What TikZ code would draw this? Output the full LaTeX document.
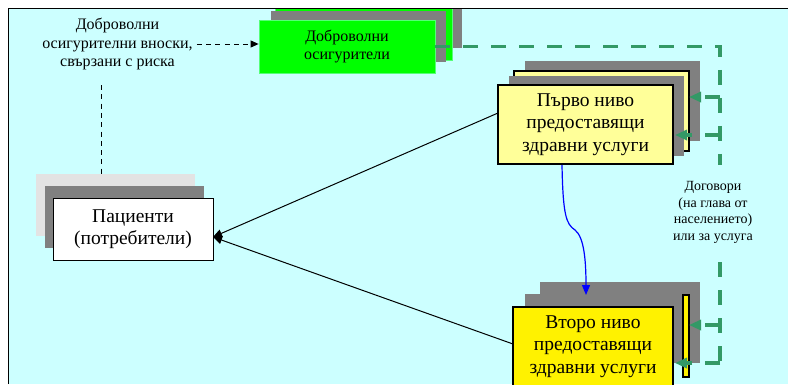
\documentclass[tikz,border=0pt]{standalone}
\usepackage{fontspec}
\setmainfont{Liberation Serif}
\usetikzlibrary{arrows.meta}
\definecolor{bgcyan}{HTML}{CCFFFF}
\definecolor{shadowgrey}{HTML}{808080}
\definecolor{lightgrey}{HTML}{E3E3E3}
\definecolor{boxgreen}{HTML}{00FF00}
\definecolor{rimgreen}{HTML}{55FF77}
\definecolor{paleyellow}{HTML}{FFFF99}
\definecolor{dashgreen}{HTML}{339966}
\tikzset{
  bigtext/.style={font=\fontsize{19.5}{22.4}\selectfont, align=center, inner sep=0pt},
  midtext/.style={font=\fontsize{16}{18.5}\selectfont, align=center, inner sep=0pt},
  smalltext/.style={font=\fontsize{14}{16.4}\selectfont, align=center, inner sep=0pt},
  greenbox/.style={midtext, fill=boxgreen, draw=rimgreen, line width=0.8pt},
  lonebox/.style={bigtext, fill=paleyellow, draw=black, line width=1.1pt},
  ltwobox/.style={bigtext, fill=yellow, draw=black, line width=1.1pt},
  patbox/.style={bigtext, fill=white, draw=black, line width=1pt},
  shadowfill/.style={fill=shadowgrey},
  gdash/.style={draw=dashgreen, line width=3.4pt, dash pattern=on 15pt off 13pt},
  gtip/.style={-{Triangle[length=12pt,width=10pt]}},
  blackdash/.style={draw=black, line width=0.9pt, dash pattern=on 5pt off 4.3pt},
  linkline/.style={draw=black, line width=1pt, -{Triangle[length=9pt,width=8pt]}},
  bluelink/.style={draw=blue, line width=1.2pt, -{Triangle[length=10pt,width=8pt]}}
}
\begin{document}
\begin{tikzpicture}[x=1pt,y=-1pt]
\useasboundingbox (0,0) rectangle (788,384);
\fill[white] (0,0) rectangle (788,384);
\fill[bgcyan] (8,8) rectangle (788,384);
\begin{scope}
\clip (8,8) rectangle (788,384);
% green stack
\fill[shadowfill] (286,-4) rectangle (462,48);
\node[greenbox, minimum width=177pt, minimum height=53pt] (gback) at (363.5,33.5) {};
\fill[shadowfill] (271,11) rectangle (446,62);
\node[greenbox, minimum width=176pt, minimum height=53pt] (gfront) at (347,46.5) {Доброволни\\осигурители};
% level 1 stack
\fill[shadowfill] (525,61) rectangle (700,141);
\node[lonebox, minimum width=175pt, minimum height=80pt] (l1back) at (601.5,111) {};
\fill[shadowfill] (509,76) rectangle (684,156);
\node[lonebox, minimum width=175pt, minimum height=79pt] (l1) at (585.5,124.5) {Първо ниво\\предоставящи\\здравни услуги};
% level 2 stack
\fill[shadowfill] (540,282) rectangle (700,363);
\fill[shadowfill] (525,294) rectangle (683,363);
\node[ltwobox, minimum width=6pt, minimum height=82pt] (l2back) at (686,336) {};
\node[ltwobox, minimum width=160pt, minimum height=79pt] (l2) at (593,346.5) {Второ ниво\\предоставящи\\здравни услуги};
% patients stack
\fill[lightgrey] (36,174) rectangle (195,236);
\fill[shadowfill] (45,186) rectangle (204,248);
\node[patbox, minimum width=160pt, minimum height=62pt] (pat) at (133,229) {Пациенти\\(потребители)};
% texts
\node[midtext] (vol) at (117.5,44) {Доброволни\\осигурителни вноски,\\свързани с риска};
\node[smalltext] (contr) at (713,212.5) {Договори\\(на глава от\\населението)\\или за услуга};
% coordinates
\coordinate (d1) at (101,85);
\coordinate (d2) at (101,174);
\coordinate (a1) at (498,113);
\coordinate (a2) at (513,344);
\coordinate (pin) at (213,237);
\coordinate (b1) at (562,165);
\coordinate (b2) at (586,295);
\coordinate (gc1) at (720,46.5);
\coordinate (gc2) at (720,165);
\coordinate (gc3) at (720,262);
\coordinate (gr1) at (720,97);
\coordinate (gr2) at (720,135);
\coordinate (gr3) at (720,325);
\coordinate (gr4) at (720,363);
\coordinate (gt1) at (689,97);
\coordinate (gt2) at (675,135);
\coordinate (gt3) at (689,325);
\coordinate (gt4) at (675,363);
% connectors
\draw[blackdash, -{Triangle[length=8pt,width=7pt]}] ([xshift=4pt]vol.east) -- (vol.east -| gfront.west);
\draw[blackdash] (d1) -- (d2);
\draw[linkline] (a1) -- (pin);
\draw[linkline] (a2) -- (pin);
\draw[bluelink] (b1) .. controls (563,215) and (566,224) .. (575,230) .. controls (584,237) and (586,260) .. (b2);
\draw[gdash] (gfront.east) -- (gc1) -- (gc2);
\draw[gdash] (gc3) -- (gr4);
\draw[gdash, gtip] (gr1) -- (gt1);
\draw[gdash, gtip] (gr2) -- (gt2);
\draw[gdash, gtip] (gr3) -- (gt3);
\draw[gdash, gtip] (gr4) -- (gt4);
\end{scope}
\draw[black, line width=1pt] (8,384) -- (8,8) -- (788,8);
\end{tikzpicture}
\end{document}
